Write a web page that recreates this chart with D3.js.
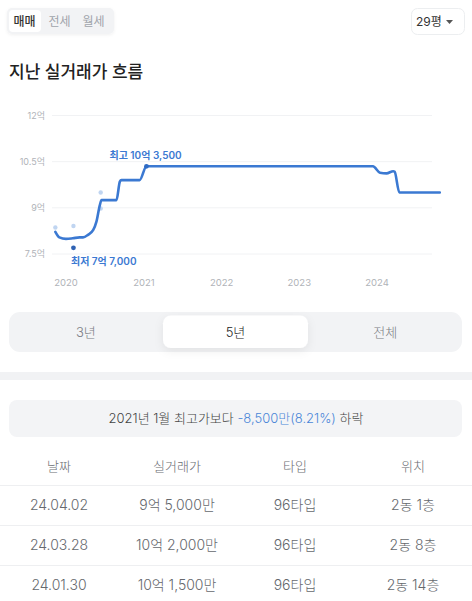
<!DOCTYPE html>
<html><head><meta charset="utf-8">
<script src="https://cdn.jsdelivr.net/npm/d3@7"></script>
<style>
html,body{margin:0;padding:0;background:#fff;}
svg{display:block;font-family:Inter,"Noto Sans CJK KR","Noto Sans",sans-serif;}
</style></head><body>
<script>
// ---- data ----
const tradeTabs = ["매매","전세","월세"];
const areaLabel = "29평";
const chartTitle = "지난 실거래가 흐름";
const yTicks = [7.5, 9, 10.5, 12];
const yTickLabels = ["7.5억","9억","10.5억","12억"];
const xTickYears = [2020, 2021, 2022, 2023, 2024];
// trend line (억)
const lineDates = ["2019-11-12","2019-12-01","2020-01-01","2020-02-02","2020-03-05","2020-03-21","2020-04-13","2020-05-08","2020-05-23","2020-06-08","2020-06-16","2020-08-25","2020-09-10","2020-09-17","2020-12-12","2021-01-13","2023-12-13","2024-01-15","2024-02-15","2024-03-17","2024-03-24","2024-04-15","2024-10-22"];
const lineValues = [8.22,8.04,7.99,8.01,8.04,8.04,8.12,8.28,8.55,9.09,9.25,9.25,9.85,9.9,9.9,10.35,10.35,10.14,10.12,10.19,10.17,9.5,9.5];
// individual trades (light dots)
const dotDates = ["2019-11-12","2020-02-05","2020-06-12","2020-06-12"];
const dotValues = [8.36,8.41,9.5,8.98];
// extremes
const highDate = "2021-01-13", highValue = 10.35, highLabel = "최고 10억 3,500";
const lowDate = "2020-02-05", lowValue = 7.7, lowLabel = "최저 7억 7,000";
const periods = ["3년","5년","전체"];
const activePeriod = "5년";
const summaryPrefix = "2021년 1월 최고가보다 ";
const summaryChange = "-8,500만(8.21%)";
const summarySuffix = " 하락";
const tableHeaders = ["날짜","실거래가","타입","위치"];
const tableDates = ["24.04.02","24.03.28","24.01.30"];
const tablePrices = ["9억 5,000만","10억 2,000만","10억 1,500만"];
const tableTypes = ["96타입","96타입","96타입"];
const tableFloors = ["2동 1층","2동 8층","2동 14층"];

// ---- drawing ----
const W = 472, H = 601;
const svg = d3.select("body").append("svg").attr("width", W).attr("height", H);
const defs = svg.append("defs");
const sh = defs.append("filter").attr("id","sh").attr("x","-20%").attr("y","-40%").attr("width","140%").attr("height","180%");
sh.append("feDropShadow").attr("dx",0).attr("dy",1).attr("stdDeviation",1.5).attr("flood-color","#000").attr("flood-opacity",0.06);
const sh2 = defs.append("filter").attr("id","sh2").attr("x","-20%").attr("y","-60%").attr("width","140%").attr("height","260%");
sh2.append("feDropShadow").attr("dx",0).attr("dy",3).attr("stdDeviation",5).attr("flood-color","#000").attr("flood-opacity",0.07);

// top tabs
svg.append("rect").attr("x",7).attr("y",8).attr("width",107).attr("height",26).attr("rx",5).attr("fill","#f2f3f5").attr("filter","url(#sh)");
svg.append("rect").attr("x",9).attr("y",10).attr("width",32).attr("height",22).attr("rx",4).attr("fill","#fff");
const tabX = [24.5, 59.5, 93.5];
svg.selectAll("text.tab").data(tradeTabs).join("text").attr("class","tab")
  .attr("x",(d,i)=>tabX[i]).attr("y",21.5).attr("dy","0.35em").attr("text-anchor","middle")
  .attr("font-size",12).attr("font-weight",(d,i)=>i===0?500:400)
  .attr("fill",(d,i)=>i===0?"#333":"#a0a4ab").text(d=>d);

// dropdown
svg.append("rect").attr("x",411.5).attr("y",8.5).attr("width",53).attr("height",26).attr("rx",6).attr("fill","#fff").attr("stroke","#eceef0");
svg.append("text").attr("x",416).attr("y",22).attr("dy","0.35em").attr("font-size",12).attr("fill","#333").text(areaLabel);
svg.append("path").attr("d","M446,20 L453,20 L449.5,24 Z").attr("fill","#555");

// title
svg.append("text").attr("x",9).attr("y",78).attr("font-size",17).attr("font-weight",500).attr("fill","#222").text(chartTitle);

// chart
const parse = d3.utcParse("%Y-%m-%d");
const x = d3.scaleUtc().domain([new Date(Date.UTC(2020,0,1)), new Date(Date.UTC(2024,0,1))]).range([66, 377]);
const y = d3.scaleLinear().domain([7.5, 12]).range([254, 115.5]);
const g = svg.append("g");
g.selectAll("line.grid").data(yTicks).join("line").attr("class","grid")
  .attr("x1",52).attr("x2",432).attr("y1",d=>y(d)).attr("y2",d=>y(d))
  .attr("stroke","#f1f2f4").attr("stroke-width",1);
g.selectAll("text.ylab").data(yTicks).join("text").attr("class","ylab")
  .attr("x",45).attr("y",d=>y(d)).attr("dy","0.35em").attr("text-anchor","end")
  .attr("font-size",9).attr("fill","#b0b3b8").text((d,i)=>yTickLabels[i]);
g.selectAll("text.xlab").data(xTickYears).join("text").attr("class","xlab")
  .attr("x",d=>x(new Date(Date.UTC(d,0,1)))).attr("y",283).attr("dy","0.35em").attr("text-anchor","middle")
  .attr("font-size",9.5).attr("fill","#b0b3b8").text(d=>d);

// dots
g.selectAll("circle.dot").data(dotDates).join("circle").attr("class","dot")
  .attr("cx",d=>x(parse(d))).attr("cy",(d,i)=>y(dotValues[i])).attr("r",2.2)
  .attr("fill","#c0d5f1");

const lineData = lineDates.map((d,i)=>({date:parse(d), v:lineValues[i]}));
g.append("path").datum(lineData)
  .attr("d", d3.line().x(d=>x(d.date)).y(d=>y(d.v)).curve(d3.curveMonotoneX))
  .attr("fill","none").attr("stroke","#3b79d2").attr("stroke-width",2.6)
  .attr("stroke-linejoin","round").attr("stroke-linecap","round");

// extremes
const hx = x(parse(highDate)), hy = y(highValue);
const lx = x(parse(lowDate)), ly = y(lowValue);
g.append("circle").attr("cx",hx).attr("cy",hy).attr("r",2.4).attr("fill","#2f6bc4");
g.append("circle").attr("cx",lx).attr("cy",ly).attr("r",2.4).attr("fill","#2f62b3");
g.append("text").attr("x",hx-37).attr("y",hy-11).attr("dy","0.35em").attr("font-size",10).attr("font-weight",600)
  .attr("fill","#3b79d2").text(highLabel);
g.append("text").attr("x",lx-2.5).attr("y",ly+13.5).attr("dy","0.35em").attr("font-size",10).attr("font-weight",600)
  .attr("fill","#3b79d2").text(lowLabel);

// period selector
svg.append("rect").attr("x",9).attr("y",312).attr("width",453).attr("height",40).attr("rx",11).attr("fill","#f2f3f5");
const segX = d3.scaleBand().domain(periods).range([11, 460]);
svg.append("rect").attr("x",163).attr("y",315.5).attr("width",145).attr("height",32.5).attr("rx",8).attr("fill","#fff").attr("filter","url(#sh2)");
svg.selectAll("text.per").data(periods).join("text").attr("class","per")
  .attr("x",d=>segX(d)+segX.bandwidth()/2).attr("y",332.5).attr("dy","0.35em").attr("text-anchor","middle")
  .attr("font-size",13).attr("font-weight",300).attr("fill",d=>d===activePeriod?"#222":"#7a7d83").text(d=>d);

// separator band
svg.append("rect").attr("x",0).attr("y",372).attr("width",W).attr("height",8).attr("fill","#f1f2f4");

// summary box
svg.append("rect").attr("x",9).attr("y",400).attr("width",453).attr("height",37).attr("rx",8).attr("fill","#f3f4f6");
const st = svg.append("text").attr("x",236).attr("y",418.5).attr("dy","0.35em").attr("text-anchor","middle").attr("font-size",13).attr("font-weight",300).attr("fill","#444");
st.append("tspan").text(summaryPrefix);
st.append("tspan").attr("fill","#4a86d8").text(summaryChange);
st.append("tspan").text(summarySuffix);

// table
const colX = d3.scaleBand().domain(tableHeaders).range([0, 472]);
svg.selectAll("text.th").data(tableHeaders).join("text").attr("class","th")
  .attr("x",d=>colX(d)+colX.bandwidth()/2).attr("y",466.5).attr("dy","0.35em").attr("text-anchor","middle")
  .attr("font-size",13).attr("font-weight",300).attr("fill","#6b6e73").text(d=>d);
const rows = tableDates.map((d,i)=>[d, tablePrices[i], tableTypes[i], tableFloors[i]]);
const rowY = d3.scaleBand().domain(d3.range(rows.length)).range([485.5, 605.5]);
svg.selectAll("line.rl").data(d3.range(rows.length)).join("line").attr("class","rl")
  .attr("x1",0).attr("x2",W).attr("y1",d=>rowY(d)).attr("y2",d=>rowY(d)).attr("stroke","#eeeff1");
rows.forEach((r,i)=>{
  svg.selectAll("text.r"+i).data(r).join("text").attr("class","r"+i)
    .attr("x",(d,j)=>colX(tableHeaders[j])+colX.bandwidth()/2).attr("y",rowY(i)+rowY.bandwidth()/2).attr("dy","0.35em")
    .attr("text-anchor","middle").attr("font-size",14).attr("font-weight",300).attr("fill","#65686d").text(d=>d);
});
</script>
</body></html>
